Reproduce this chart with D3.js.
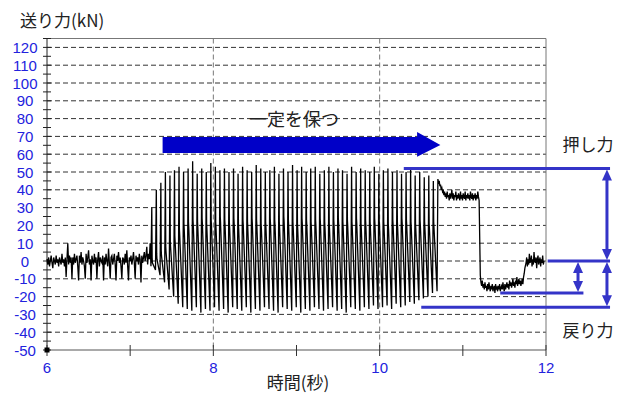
<!DOCTYPE html>
<html>
<head>
<meta charset="utf-8">
<script src="https://cdn.jsdelivr.net/npm/d3@7"></script>
<style>
  body { margin: 0; background: #fff; }
  text { font-family: "Noto Sans CJK JP", "Noto Sans", sans-serif; }
  .num { font-family: "Liberation Sans", "DejaVu Sans", sans-serif; }
</style>
</head>
<body>
<script>
// tick values
let yTicks = [-50, -40, -30, -20, -10, 0, 10, 20, 30, 40, 50, 60, 70, 80, 90, 100, 110, 120];
let yMinor = [-45, -35, -25, -15, -5, 5, 15, 25, 35, 45, 55, 65, 75, 85, 95, 105, 115, 125];
let yGrid = [-40, -30, -20, -10, 0, 10, 20, 30, 40, 50, 60, 70, 80, 90, 100, 110, 120];
let xTicks = [6, 8, 10, 12];
let xMinor = [7, 9, 11];

// idle noise before the cycles (t = 6.00 .. 7.24, every 0.01 s)
let baseStart = 6.0, baseStep = 0.01;
let baseVals = [1, -2, 2, -3, 0, 3, -1, -4, 2, 0,
    -2, 3, -1, 1, -3, 2, 0, -2, 4, -1,
    1, -3, 2, -9, 1, 10, -2, 3, -1, 2,
    -10, 2, -2, 4, -1, 1, 3, -3, -11, 3,
    -1, 5, -2, 2, 0, -3, -10, 4, -1, 2,
    6, -2, 1, -11, 3, 0, -2, 4, -1, 2,
    -10, 1, 5, -3, 2, 0, -1, 3, -11, 2,
    -2, 4, 0, -3, 7, -1, -10, 2, 3, -2,
    1, 4, -2, -11, 3, 0, 5, -1, 2, -3,
    -10, 2, 1, -2, 4, -1, 6, -3, -11, 2,
    0, 3, -2, 1, 5, -1, -10, 3, 0, 2,
    -2, 4, 1, -12, 3, -1, 2, 5, 0, 3,
    8, -2, 4, 1, 10];

// feed cycles: peak, knee (mid) and bottom of every stroke
let cycleStart = 7.25, cycleEnd = 10.69;
let peaks = [30, 40, 44, 50, 48, 51, 53, 50, 52, 56,
    49, 52, 50, 55, 53, 51, 52, 50, 52, 49,
    53, 51, 50, 54, 52, 50, 51, 53, 49, 52,
    50, 54, 51, 53, 50, 52, 53, 49, 51, 53,
    50, 52, 51, 49, 53, 50, 52, 51, 50, 53,
    49, 51, 52, 50, 51, 49, 50, 52, 48, 50,
    47, 48, 45];
let mids = [0, 2, 4, 6, 9, 12, 16, 19, 20, 21,
    20, 22, 19, 21, 20, 23, 21, 20, 22, 19,
    21, 20, 22, 21, 19, 20, 22, 21, 20, 23,
    21, 20, 19, 22, 21, 20, 21, 22, 20, 19,
    21, 22, 20, 21, 20, 22, 19, 21, 20, 22,
    21, 20, 19, 21, 20, 22, 21, 20, 19, 21,
    20, 19, 20];
let troughs = [-3, -5, -8, -12, -16, -20, -24, -26, -27, -28,
    -26, -29, -27, -28, -26, -28, -27, -29, -26, -27,
    -28, -26, -29, -27, -28, -26, -27, -28, -29, -26,
    -27, -28, -26, -29, -27, -28, -26, -27, -28, -27,
    -26, -28, -27, -29, -26, -27, -28, -26, -27, -25,
    -27, -26, -25, -27, -24, -26, -25, -23, -24, -22,
    -21, -20, -18, -17];

// hold, return and rest (every 0.008 s)
let tailStep = 0.008;
let holdStart = 10.70;
let holdVals = [46, 44, 45, 42, 43, 40, 41, 39, 40, 37,
    39, 36, 38, 35, 39, 36, 37, 34, 38, 35,
    37, 40, 35, 38, 34, 37, 36, 39, 34, 37,
    35, 38, 36, 34, 39, 35, 37, 34, 38, 36,
    35, 39, 34, 37, 36, 38, 35, 37, 34, 39,
    36, 35, 38, 34, 37, 36, 38, 34, 37, 35,
    39, 36, 34];
let backStart = 11.21;
let backVals = [-8, -12, -14, -11, -15, -13, -16, -12, -15, -14,
    -17, -13, -16, -12, -15, -17, -14, -16, -13, -17,
    -15, -14, -18, -13, -16, -15, -17, -14, -16, -13,
    -17, -15, -14, -16, -12, -15, -17, -13, -16, -14,
    -12, -15, -13, -16, -11, -14, -12, -15, -13, -10,
    -14, -12, -15, -11, -13, -9, -14, -12, -10, -13,
    -11, -14, -12, -10, -13, -9, -7, -4];
let restStart = 11.76;
let restVals = [-1, 2, -3, 1, -2, 4, -1, 0, 3, -3,
    1, -2, 5, 0, -1, 2, -4, 1, 3, -2,
    0, 2, -3, 1, -1, 3, -2, 0];

let width = 625, height = 394;
let x = d3.scaleLinear().domain([6, 12]).range([47, 546]);
let y = d3.scaleLinear().domain([-50, 125]).range([350, 38.5]);

let svg = d3.select("body").append("svg")
    .attr("width", width)
    .attr("height", height);

// build the trace
let pts = [];
baseVals.forEach((v, i) => pts.push([baseStart + i * baseStep, v]));
let period = (cycleEnd - cycleStart) / peaks.length;
peaks.forEach(function(p, i) {
    let t = cycleStart + i * period;
    pts.push([t, troughs[i]]);
    pts.push([t + period * 0.18, p]);
    pts.push([t + period * 0.26, mids[i] + 2]);
    pts.push([t + period * 0.32, mids[i] - 1]);
});
pts.push([cycleEnd, troughs[troughs.length - 1]]);
holdVals.forEach((v, i) => pts.push([holdStart + i * tailStep, v]));
backVals.forEach((v, i) => pts.push([backStart + i * tailStep, v]));
restVals.forEach((v, i) => pts.push([restStart + i * tailStep, v]));

// grid
svg.selectAll(".hgrid").data(yGrid).enter().append("line")
    .attr("x1", x(6)).attr("x2", x(12))
    .attr("y1", d => y(d)).attr("y2", d => y(d))
    .attr("stroke", "#333").attr("stroke-width", 1)
    .attr("stroke-dasharray", "5,3");
svg.selectAll(".vgrid").data([8, 10]).enter().append("line")
    .attr("x1", d => x(d)).attr("x2", d => x(d))
    .attr("y1", y(125)).attr("y2", y(-50))
    .attr("stroke", "#777").attr("stroke-width", 1)
    .attr("stroke-dasharray", "5,3");

// frame
svg.append("line").attr("x1", x(6)).attr("x2", x(12)).attr("y1", y(125)).attr("y2", y(125))
    .attr("stroke", "#777");
svg.append("line").attr("x1", x(12)).attr("x2", x(12)).attr("y1", y(125)).attr("y2", y(-50))
    .attr("stroke", "#777");
svg.append("line").attr("x1", x(6)).attr("x2", x(12)).attr("y1", y(-50)).attr("y2", y(-50))
    .attr("stroke", "#555");
svg.append("line").attr("x1", x(6)).attr("x2", x(6)).attr("y1", y(125)).attr("y2", y(-50))
    .attr("stroke", "#222");

// y ticks
svg.selectAll(".ytick").data(yTicks.concat(yMinor)).enter().append("line")
    .attr("x1", x(6) - 4).attr("x2", x(6) + 4)
    .attr("y1", d => y(d)).attr("y2", d => y(d))
    .attr("stroke", "#222");
svg.selectAll(".ylab").data(yTicks).enter().append("text")
    .attr("class", "num")
    .attr("x", 25)
    .attr("y", d => y(d) + 5.5)
    .attr("text-anchor", "middle")
    .attr("fill", "#2222dd")
    .style("font-size", "15px")
    .text(d => d);

// x ticks
svg.selectAll(".xtick").data(xTicks.concat(xMinor)).enter().append("line")
    .attr("x1", d => x(d)).attr("x2", d => x(d))
    .attr("y1", y(-50) - 5).attr("y2", y(-50) + 6)
    .attr("stroke", "#333");
svg.selectAll(".xlab").data(xTicks).enter().append("text")
    .attr("class", "num")
    .attr("x", d => x(d))
    .attr("y", 373)
    .attr("text-anchor", "middle")
    .attr("fill", "#2222dd")
    .style("font-size", "15px")
    .text(d => d);

// trace
let line = d3.line().x(d => x(d[0])).y(d => y(d[1]));
svg.append("path")
    .datum(pts)
    .attr("d", line)
    .attr("fill", "none")
    .attr("stroke", "#000")
    .attr("stroke-width", 1.3);

svg.append("rect")
    .attr("x", x(6) - 2.5).attr("y", y(-50) - 2.5)
    .attr("width", 5).attr("height", 5)
    .attr("fill", "#000");

// titles
svg.append("text").attr("x", 20).attr("y", 27)
    .attr("fill", "#222").style("font-size", "17px")
    .text("送り力(kN)");
svg.append("text").attr("x", 298).attr("y", 389)
    .attr("text-anchor", "middle")
    .attr("fill", "#222").style("font-size", "17px")
    .text("時間(秒)");

// "constant" arrow
let arrow = [[7.39, 69.7], [10.45, 69.7], [10.45, 72.5], [10.73, 65.2],
    [10.45, 58.5], [10.45, 60.7], [7.39, 60.7]];
svg.append("path")
    .attr("d", "M" + arrow.map(d => x(d[0]) + "," + y(d[1])).join("L") + "Z")
    .attr("fill", "#0000c8");
svg.append("text").attr("x", x(8.97)).attr("y", 126)
    .attr("text-anchor", "middle")
    .attr("fill", "#222").style("font-size", "18px")
    .text("一定を保つ");

// force markers
let blue = "#3434c8";
let levels = [[10.29, 12.77, 52], [12.02, 12.77, 0], [11.45, 12.45, -18], [10.5, 12.77, -26]];
svg.selectAll(".lvl").data(levels).enter().append("line")
    .attr("x1", d => x(d[0])).attr("x2", d => x(d[1]))
    .attr("y1", d => y(d[2])).attr("y2", d => y(d[2]))
    .attr("stroke", blue).attr("stroke-width", 3);

let spans = [[12.733, 52, 0], [12.733, 0, -26], [12.385, 0, -18]];
spans.forEach(function(s) {
    let cx = x(s[0]), ya = y(s[1]), yb = y(s[2]);
    svg.append("line")
        .attr("x1", cx).attr("x2", cx)
        .attr("y1", ya + 8).attr("y2", yb - 8)
        .attr("stroke", blue).attr("stroke-width", 3);
    svg.append("path")
        .attr("d", `M${cx},${ya + 1}L${cx - 5},${ya + 12}L${cx + 5},${ya + 12}Z`)
        .attr("fill", blue);
    svg.append("path")
        .attr("d", `M${cx},${yb - 1}L${cx - 5},${yb - 12}L${cx + 5},${yb - 12}Z`)
        .attr("fill", blue);
});

svg.append("text").attr("x", 588).attr("y", 151)
    .attr("text-anchor", "middle")
    .attr("fill", "#222").style("font-size", "17px")
    .text("押し力");
svg.append("text").attr("x", 588).attr("y", 337)
    .attr("text-anchor", "middle")
    .attr("fill", "#222").style("font-size", "17px")
    .text("戻り力");
</script>
</body>
</html>
